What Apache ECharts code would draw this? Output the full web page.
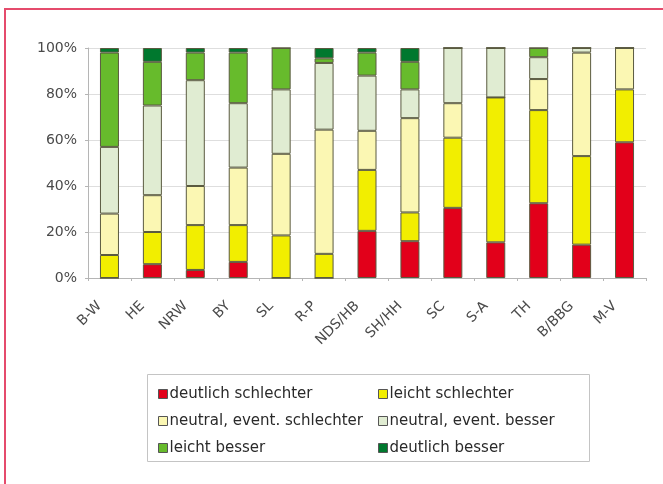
<!DOCTYPE html>
<html>
<head>
<meta charset="utf-8">
<script src="https://cdn.jsdelivr.net/npm/echarts@6/dist/echarts.min.js"></script>
<style>
  html, body { margin: 0; padding: 0; background: #fff; }
  #wrap { position: relative; width: 663px; height: 484px; overflow: hidden; }
  #frame { position: absolute; left: 4px; top: 8px; width: 700px; height: 500px;
           border-top: 2px solid #e54b6c; border-left: 2px solid #e54b6c; box-sizing: border-box; }
  #chart { position: absolute; left: 0; top: 0; width: 663px; height: 484px; }
</style>
</head>
<body>
<div id="wrap">
  <div id="frame"></div>
  <div id="chart"></div>
</div>
<script>
const categories = ['B-W','HE','NRW','BY','SL','R-P','NDS/HB','SH/HH','SC','S-A','TH','B/BBG','M-V'];
const seriesNames = ['deutlich schlechter','leicht schlechter','neutral, event. schlechter','neutral, event. besser','leicht besser','deutlich besser'];
const deutlichSchlechter = [0, 6, 3.5, 7, 0, 0, 20.5, 16, 30.5, 15.5, 32.5, 14.5, 59];
const leichtSchlechter   = [10, 14, 19.5, 16, 18.5, 10.5, 26.5, 12.5, 30.5, 63, 40.5, 38.5, 23];
const neutralSchlechter  = [18, 16, 17, 25, 35.5, 54, 17, 41, 15, 0, 13.5, 45, 18];
const neutralBesser      = [29, 39, 46, 28, 28, 29, 24, 12.5, 24, 21.5, 9.5, 2, 0];
const leichtBesser       = [41, 19, 12, 22, 18, 2, 10, 12, 0, 0, 4, 0, 0];
const deutlichBesser     = [2, 6, 2, 2, 0, 4.5, 2, 6, 0, 0, 0, 0, 0];
const yTicks = [0, 20, 40, 60, 80, 100];

const colors = ['#e2001a', '#f2ee00', '#fbf7b3', '#e0ecd2', '#67bb2c', '#00782e'];
const values = [deutlichSchlechter, leichtSchlechter, neutralSchlechter, neutralBesser, leichtBesser, deutlichBesser];

const chart = echarts.init(document.getElementById('chart'), null, { renderer: 'canvas' });
const font = 'DejaVu Sans, Verdana, sans-serif';

const legendBase = {
  orient: 'vertical',
  top: 381,
  itemWidth: 9, itemHeight: 9, itemGap: 11,
  icon: 'rect',
  textStyle: { fontSize: 15, lineHeight: 16, color: '#2a2a2a', fontFamily: font, padding: [0, 0, 0, -3] },
  itemStyle: { borderColor: '#555', borderWidth: 1 }
};

const option = {
  backgroundColor: 'transparent',
  animation: false,
  color: colors,
  grid: { left: 88, right: 17, top: 48, bottom: 206, containLabel: false },
  xAxis: {
    type: 'category',
    data: categories,
    axisLine: { show: true, lineStyle: { color: '#b5b5b5', width: 1 } },
    axisTick: { show: true, length: 3, lineStyle: { color: '#b5b5b5' } },
    axisLabel: { rotate: 45, fontSize: 14, color: '#4a4a4a', fontFamily: font, margin: 16, padding: [0, 14, 0, 0] }
  },
  yAxis: {
    type: 'value',
    min: yTicks[0],
    max: yTicks[yTicks.length - 1],
    interval: 20,
    axisLine: { show: true, lineStyle: { color: '#b5b5b5', width: 1 } },
    axisTick: { show: true, length: 3, lineStyle: { color: '#b5b5b5' } },
    axisLabel: { formatter: '{value}%', fontSize: 14, color: '#4a4a4a', fontFamily: font, margin: 11, padding: [4, 0, 0, 0] },
    splitLine: { show: true, lineStyle: { color: '#dedede', width: 1 } }
  },
  legend: [
    Object.assign({}, legendBase, { left: 153, data: [seriesNames[0], seriesNames[2], seriesNames[4]] }),
    Object.assign({}, legendBase, { left: 373, data: [seriesNames[1], seriesNames[3], seriesNames[5]] })
  ],
  graphic: [
    {
      type: 'rect',
      shape: { x: 147.5, y: 374.5, width: 442, height: 87 },
      style: { fill: 'none', stroke: '#c4c4c4', lineWidth: 1 },
      z: -1
    }
  ],
  series: seriesNames.map((name, i) => ({
    name: name,
    type: 'bar',
    stack: 'total',
    barWidth: 19,
    data: values[i],
    itemStyle: { color: colors[i], borderColor: '#5a5a40', borderWidth: 1 }
  }))
};
chart.setOption(option);
</script>
</body>
</html>
